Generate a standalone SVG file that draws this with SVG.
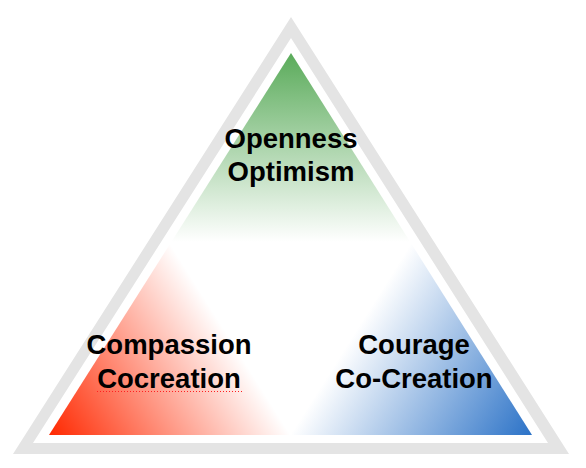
<svg xmlns="http://www.w3.org/2000/svg" width="586" height="468" viewBox="0 0 586 468">
  <style>
    .lbl { font-family: "Liberation Sans", Arial, sans-serif; font-weight: bold; font-size: 27.5px; fill: #000; text-anchor: middle; }
  </style>
  <defs>
    <linearGradient id="gGreen" gradientUnits="userSpaceOnUse" x1="291" y1="53" x2="291" y2="242">
      <stop offset="0" stop-color="#5aab5a" stop-opacity="1"/>
      <stop offset="1" stop-color="#5aab5a" stop-opacity="0"/>
    </linearGradient>
    <linearGradient id="gRed" gradientUnits="userSpaceOnUse" x1="49" y1="435" x2="222" y2="326">
      <stop offset="0" stop-color="#ff2800" stop-opacity="1"/>
      <stop offset="1" stop-color="#ff2800" stop-opacity="0"/>
    </linearGradient>
    <linearGradient id="gBlue" gradientUnits="userSpaceOnUse" x1="532" y1="435" x2="359" y2="326">
      <stop offset="0" stop-color="#2b72c7" stop-opacity="1"/>
      <stop offset="1" stop-color="#2b72c7" stop-opacity="0"/>
    </linearGradient>
  </defs>
  <rect width="586" height="468" fill="#ffffff"/>
  <g id="frame">
    <path d="M291 17 L13 454 L569 454 Z M291 38 L548 443 L33 443 Z" fill="#e4e4e4" fill-rule="evenodd"/>
  </g>
  <g id="openness">
    <polygon points="291,53 532,435 49,435" fill="url(#gGreen)"/>
    <text class="lbl" x="291" y="148">Openness</text>
    <text class="lbl" x="291" y="181">Optimism</text>
  </g>
  <g id="compassion">
    <polygon points="291,53 532,435 49,435" fill="url(#gRed)"/>
    <text class="lbl" x="169" y="354">Compassion</text>
    <text class="lbl" x="169" y="388">Cocreation</text>
    <line x1="97" y1="391.5" x2="242" y2="391.5" stroke="#ff2020" stroke-width="1" stroke-dasharray="1 2"/>
  </g>
  <g id="courage">
    <polygon points="291,53 532,435 49,435" fill="url(#gBlue)"/>
    <text class="lbl" x="414" y="354">Courage</text>
    <text class="lbl" x="414" y="388">Co-Creation</text>
  </g>
  <g id="connectors"/>
</svg>
